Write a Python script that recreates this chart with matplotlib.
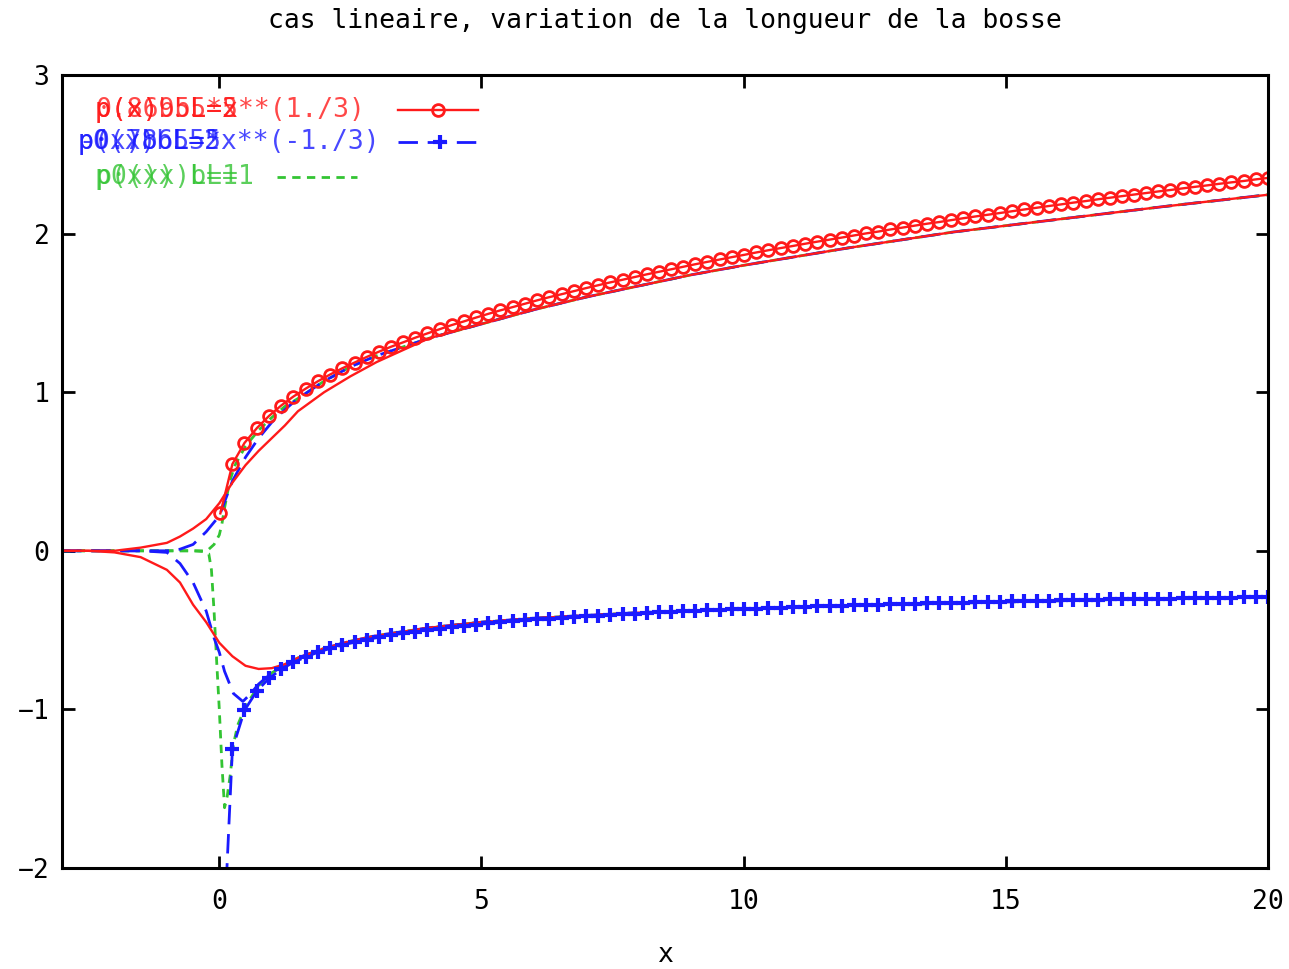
import matplotlib.pyplot as plt

plt.rcParams['font.family'] = ['DejaVu Sans Mono']
plt.rcParams['font.size'] = 19

RED = '#ff1a1a'
BLUE = '#1a1aff'
GREEN = '#33c433'

# reference curves, sampled on gnuplot's 100 point grid (only x > 0 is defined)
x_ref = [0.02, 0.25, 0.48, 0.72, 0.95, 1.18, 1.41, 1.65, 1.88, 2.11,
         2.34, 2.58, 2.81, 3.04, 3.27, 3.51, 3.74, 3.97, 4.20, 4.43,
         4.67, 4.90, 5.13, 5.36, 5.60, 5.83, 6.06, 6.29, 6.53, 6.76,
         6.99, 7.22, 7.45, 7.69, 7.92, 8.15, 8.38, 8.62, 8.85, 9.08,
         9.31, 9.55, 9.78, 10.01, 10.24, 10.47, 10.71, 10.94, 11.17, 11.40,
         11.64, 11.87, 12.10, 12.33, 12.57, 12.80, 13.03, 13.26, 13.49, 13.73,
         13.96, 14.19, 14.42, 14.66, 14.89, 15.12, 15.35, 15.59, 15.82, 16.05,
         16.28, 16.52, 16.75, 16.98, 17.21, 17.44, 17.68, 17.91, 18.14, 18.37,
         18.61, 18.84, 19.07, 19.30, 19.54, 19.77, 20.00]
ref_up = [0.236, 0.547, 0.680, 0.775, 0.851, 0.916, 0.972, 1.023, 1.069, 1.111,
          1.150, 1.187, 1.222, 1.255, 1.286, 1.315, 1.344, 1.371, 1.397, 1.423,
          1.447, 1.471, 1.494, 1.516, 1.537, 1.558, 1.579, 1.599, 1.618, 1.637,
          1.656, 1.674, 1.692, 1.709, 1.726, 1.743, 1.759, 1.775, 1.791, 1.807,
          1.822, 1.837, 1.852, 1.866, 1.881, 1.895, 1.909, 1.922, 1.936, 1.949,
          1.962, 1.975, 1.988, 2.001, 2.013, 2.026, 2.038, 2.050, 2.062, 2.073,
          2.085, 2.097, 2.108, 2.119, 2.130, 2.141, 2.152, 2.163, 2.174, 2.184,
          2.195, 2.205, 2.216, 2.226, 2.236, 2.246, 2.256, 2.266, 2.275, 2.285,
          2.295, 2.304, 2.314, 2.323, 2.332, 2.342, 2.351]
ref_low = [-2.901, -1.250, -1.006, -0.882, -0.804, -0.747, -0.704, -0.669, -0.640, -0.616,
           -0.595, -0.576, -0.560, -0.545, -0.532, -0.520, -0.509, -0.499, -0.490, -0.481,
           -0.473, -0.465, -0.458, -0.451, -0.445, -0.439, -0.433, -0.428, -0.423, -0.418,
           -0.413, -0.409, -0.404, -0.400, -0.396, -0.393, -0.389, -0.385, -0.382, -0.379,
           -0.375, -0.372, -0.369, -0.367, -0.364, -0.361, -0.358, -0.356, -0.353, -0.351,
           -0.349, -0.346, -0.344, -0.342, -0.340, -0.338, -0.336, -0.334, -0.332, -0.330,
           -0.328, -0.326, -0.325, -0.323, -0.321, -0.319, -0.318, -0.316, -0.315, -0.313,
           -0.312, -0.310, -0.309, -0.307, -0.306, -0.305, -0.303, -0.302, -0.301, -0.299,
           -0.298, -0.297, -0.296, -0.295, -0.293, -0.292, -0.291]

# shared far field of the three bump lengths
tail_x_up = [4, 5, 6, 7, 8, 9, 10, 12, 14, 16, 18, 20]
tail_up = [1.34, 1.43, 1.52, 1.60, 1.67, 1.74, 1.80, 1.91, 2.01, 2.09, 2.17, 2.245]
tail_x_low = [1.5, 2, 2.5, 3, 4, 5, 6, 8, 10, 12, 14, 16, 18, 20]
tail_low = [-0.675, -0.615, -0.57, -0.535, -0.485, -0.45, -0.425, -0.39,
            -0.365, -0.345, -0.33, -0.315, -0.302, -0.29]

# L=5 (red solid)
red_x_up = [-3, -2.5, -2, -1.5, -1, -0.75, -0.5, -0.25, 0, 0.25, 0.5, 0.75, 1.0, 1.25, 1.5, 2, 2.5, 3]
red_up = [0, 0, 0.0, 0.02, 0.05, 0.09, 0.14, 0.2, 0.3, 0.43, 0.54, 0.63, 0.71, 0.79, 0.88, 1.0, 1.10, 1.19]
red_x_low = [-3, -2.5, -2, -1.5, -1, -0.75, -0.5, -0.25, 0, 0.25, 0.5, 0.75, 1.0, 1.25]
red_low = [0, 0, -0.01, -0.04, -0.12, -0.2, -0.34, -0.45, -0.58, -0.665, -0.725, -0.745, -0.74, -0.715]

# L=2 (blue dashed)
blue_x_up = [-3, -1.5, -1, -0.75, -0.5, -0.25, 0, 0.25, 0.5, 0.75, 1.0, 1.25, 1.5, 2, 2.5, 3]
blue_up = [0, 0, 0.0, 0.01, 0.04, 0.12, 0.22, 0.44, 0.59, 0.71, 0.81, 0.89, 0.96, 1.07, 1.16, 1.23]
blue_x_low = [-3, -1.5, -1, -0.75, -0.5, -0.25, -0.1, 0, 0.1, 0.27, 0.45, 0.6, 0.75, 1.0, 1.25]
blue_low = [0, 0, -0.01, -0.08, -0.2, -0.38, -0.55, -0.64, -0.76, -0.9, -0.95, -0.9, -0.84, -0.77, -0.72]

# L=1 (green dotted)
green_x_up = [-3, -0.5, -0.3, -0.2, -0.1, 0, 0.05, 0.1, 0.2, 0.3, 0.5, 0.75, 1.0, 1.25, 1.5, 2, 2.5, 3]
green_up = [0, 0, 0.0, 0.01, 0.04, 0.1, 0.17, 0.27, 0.44, 0.54, 0.66, 0.76, 0.84, 0.91, 0.96, 1.07, 1.16, 1.23]
green_x_low = [-3, -0.5, -0.3, -0.2, -0.15, -0.1, -0.05, 0, 0.05, 0.1, 0.15, 0.21, 0.27, 0.35, 0.5, 0.75, 1.0, 1.25]
green_low = [0, 0, -0.005, -0.02, -0.12, -0.38, -0.7, -1.0, -1.35, -1.62, -1.55, -1.41, -1.22, -1.1, -0.98, -0.85, -0.77, -0.72]

fig = plt.figure(figsize=(12.89, 9.69), dpi=100)
ax = fig.add_axes([62 / 1289, 1 - 868 / 969, 1206 / 1289, 793 / 969])

green_style = dict(color=GREEN, lw=2.0, dashes=(3, 2.3))
blue_style = dict(color=BLUE, lw=2.0, dashes=(7, 3.5))
red_style = dict(color=RED, lw=1.7)

ax.plot(green_x_up + tail_x_up, green_up + tail_up, **green_style)
ax.plot(green_x_low + tail_x_low, green_low + tail_low, **green_style)
ax.plot(blue_x_up + tail_x_up, blue_up + tail_up, **blue_style)
ax.plot(blue_x_low + tail_x_low, blue_low + tail_low, **blue_style)
ax.plot(red_x_up + tail_x_up, red_up + tail_up, **red_style)
ax.plot(red_x_low + tail_x_low, red_low + tail_low, **red_style)

circ = dict(marker='o', ms=8.5, mfc='none', mec=RED, mew=2.0)
plus = dict(marker='+', ms=10, mew=3.0)
ax.plot(x_ref, ref_up, color=RED, lw=1.7, **circ)
ax.plot(x_ref, ref_low, **blue_style, **plus)

ax.set_xlim(-3, 20)
ax.set_ylim(-2, 3)
ax.set_xticks([0, 5, 10, 15, 20])
ax.set_yticks([-2, -1, 0, 1, 2, 3])
ax.tick_params(direction='in', length=9, width=2, top=True, right=True,
               labelsize=19)
ax.tick_params(axis='x', pad=15)
ax.tick_params(axis='y', pad=9)
for s in ax.spines.values():
    s.set_linewidth(2.2)

ax.set_xlabel('x', fontsize=19)
ax.xaxis.set_label_coords(0.5, -0.093)
fig.text(665 / 1289, 1 - 21 / 969, 'cas lineaire, variation de la longueur de la bosse',
         ha='center', va='center', fontsize=19)


# key: gnuplot wrote several titles on top of each other in each row
def ax_x(px):
    return (px - 62) / 1206


def ax_y(py):
    return (868 - py) / 793


key_rows = [
    (RED, 95, 110, ['0.86955*x**(1./3)', 'p(x) bL=5', 'p(x)b L=2']),
    (BLUE, 78, 142, ['-0.78655*x**(-1./3)', 'p(x)b L=5', 'p0(x)bL=2']),
    (GREEN, 95, 177, ['p(x)x)bL=1', 'p0(x) L=1']),
]
for col, px, py, titles in key_rows:
    for t in titles:
        ax.text(ax_x(px), ax_y(py), t, color=col, ha='left', va='center',
                transform=ax.transAxes, fontsize=19, alpha=0.8)

ax.plot([ax_x(398), ax_x(478)], [ax_y(110)] * 2, color=RED, lw=1.7,
        transform=ax.transAxes, clip_on=False)
ax.plot([ax_x(438)], [ax_y(110)], color=RED, transform=ax.transAxes,
        clip_on=False, **circ)
ax.plot([ax_x(398), ax_x(478)], [ax_y(142)] * 2, transform=ax.transAxes,
        clip_on=False, **blue_style)
ax.plot([ax_x(440)], [ax_y(142)], color=BLUE, transform=ax.transAxes,
        clip_on=False, **plus)
ax.plot([ax_x(277), ax_x(357)], [ax_y(177)] * 2, transform=ax.transAxes,
        clip_on=False, **green_style)

fig.savefig('out.png', dpi=100)
